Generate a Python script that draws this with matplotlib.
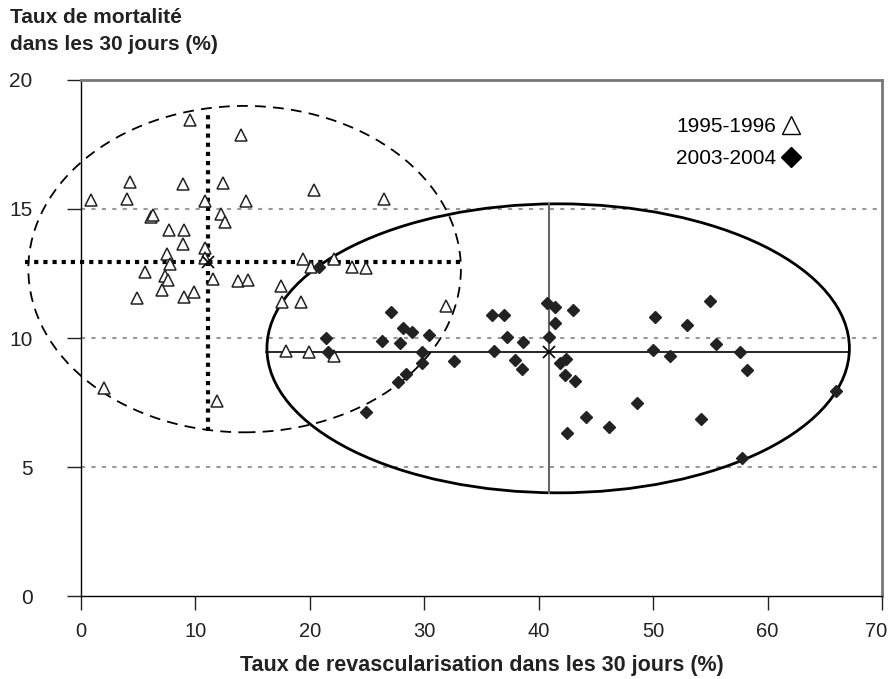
import matplotlib.pyplot as plt
from matplotlib.patches import Ellipse
from matplotlib.lines import Line2D
from matplotlib.transforms import ScaledTranslation

plt.rcParams['font.family'] = ['Liberation Sans', 'DejaVu Sans']

# 1995-1996 (triangles)
x_9596 = [0.9, 4.0, 4.3, 8.9, 9.5, 10.8, 12.4, 14.0, 14.4, 6.1, 6.3, 12.2, 12.6,
          7.7, 9.0, 8.9, 10.8, 7.5, 10.8, 7.8, 5.6, 7.3, 7.6, 11.5, 13.7, 14.6,
          7.1, 9.9, 4.9, 9.0, 20.4, 26.5, 19.4, 22.1, 20.1, 23.7, 24.9, 17.5,
          17.6, 19.2, 17.9, 19.9, 22.1, 31.9, 2.0, 11.9]
y_9596 = [15.35, 15.4, 16.05, 15.95, 18.45, 15.3, 16.0, 17.85, 15.3, 14.7, 14.75,
          14.8, 14.5, 14.2, 14.2, 13.65, 13.5, 13.25, 13.1, 12.85, 12.55, 12.4,
          12.25, 12.3, 12.2, 12.25, 11.85, 11.8, 11.55, 11.6, 15.75, 15.4, 13.05,
          13.05, 12.75, 12.75, 12.7, 12.0, 11.4, 11.4, 9.5, 9.45, 9.3, 11.25,
          8.05, 7.55]

# 2003-2004 (diamonds)
x_0304 = [20.8, 27.1, 21.4, 21.6, 26.3, 28.1, 28.9, 27.9, 30.4, 29.8, 29.8, 28.4,
          27.7, 24.9, 32.6, 35.9, 37.0, 37.2, 38.6, 36.1, 37.9, 38.5, 40.7, 40.9,
          41.4, 43.0, 41.4, 42.4, 41.9, 42.3, 43.2, 44.1, 42.5, 46.1, 48.6, 50.2,
          55.0, 53.0, 50.0, 51.5, 55.5, 57.6, 58.2, 54.2, 57.8, 66.0]
y_0304 = [12.75, 11.0, 10.0, 9.45, 9.9, 10.4, 10.25, 9.8, 10.1, 9.45, 9.05, 8.6,
          8.3, 7.15, 9.1, 10.9, 10.9, 10.05, 9.85, 9.5, 9.15, 8.8, 11.35, 10.05,
          11.2, 11.1, 10.6, 9.2, 9.05, 8.55, 8.35, 6.95, 6.3, 6.55, 7.5, 10.8,
          11.45, 10.5, 9.55, 9.3, 9.75, 9.45, 8.75, 6.85, 5.35, 7.95]

# moyennes et ellipses
mean_9596 = (11.1, 12.93)
mean_0304 = (40.9, 9.45)
ell_9596 = dict(center=(14.3, 12.67), width=37.8, height=12.65)
ell_0304 = dict(center=(41.7, 9.6), width=50.9, height=11.2)
cross_9596_x = (-4.9, 33.2)
cross_9596_y = (6.4, 18.8)
cross_0304_x = (16.2, 67.1)
cross_0304_y = (4.0, 15.2)

fig = plt.figure(figsize=(8.91, 6.79), dpi=100)
ax = fig.add_axes([0.0909, 0.1222, 0.899, 0.76])

ax.set_xlim(0, 70)
ax.set_ylim(0, 20)
ax.set_xticks(range(0, 71, 10))
ax.set_yticks([0, 5, 10, 15, 20])

# grille pointillée
for yv in [5, 10, 15]:
    ax.axhline(yv, color='#999999', lw=1.5, ls=(0, (2, 3)), zorder=0)

# ellipses
ax.add_patch(Ellipse(ell_9596['center'], ell_9596['width'], ell_9596['height'],
                     fill=False, ec='black', lw=1.3, ls=(0, (6, 4)), clip_on=False))
ax.add_patch(Ellipse(ell_0304['center'], ell_0304['width'], ell_0304['height'],
                     fill=False, ec='black', lw=2, clip_on=False))

# croix des moyennes
ax.plot(cross_9596_x, [mean_9596[1]] * 2, color='black', lw=3, ls=(0, (1, 1.2)), clip_on=False)
ax.plot([mean_9596[0]] * 2, cross_9596_y, color='black', lw=3, ls=(0, (1, 1.2)), clip_on=False)
ax.plot(cross_0304_x, [mean_0304[1]] * 2, color='black', lw=1.2)
ax.plot([mean_0304[0]] * 2, cross_0304_y, color='#666666', lw=1.5)

ax.plot(x_9596, y_9596, ls='none', marker='^', ms=8, mfc='white', mec='#222222', mew=1.1, zorder=3)
ax.plot(x_0304, y_0304, ls='none', marker='D', ms=6.5, mfc='#222222', mec='#222222', zorder=3)
ax.plot(*mean_9596, marker='x', ms=8, color='black', mew=1.2, zorder=4)
ax.plot(*mean_0304, marker='x', ms=8, color='black', mew=1.2, zorder=4)

# axes
for s in ['left', 'bottom']:
    ax.spines[s].set_color('black')
    ax.spines[s].set_linewidth(1)
for s in ['top', 'right']:
    ax.spines[s].set_color('#777777')
    ax.spines[s].set_linewidth(2)
ax.tick_params(direction='out', length=10, width=1, labelsize=15, colors='#222222')
ax.tick_params(axis='x', pad=9, labelsize=14.5)
ax.tick_params(axis='y', pad=25)

# décaler un peu le dernier label pour qu'il reste dans l'image
last = ax.get_xticklabels()[-1]
last.set_transform(last.get_transform() + ScaledTranslation(-4 / 72, 0, fig.dpi_scale_trans))

ax.set_xlabel('Taux de revascularisation dans les 30 jours (%)', fontsize=15.5,
              fontweight='bold', color='#222222', labelpad=10)
fig.text(0.011, 0.988, 'Taux de mortalité\ndans les 30 jours (%)', fontsize=15,
         fontweight='bold', color='#222222', va='top', ha='left', linespacing=1.55)

handles = [Line2D([], [], ls='none', marker='^', ms=13, mfc='white', mec='black', mew=1),
           Line2D([], [], ls='none', marker='D', ms=10, mfc='black', mec='black')]
ax.legend(handles, ['1995-1996', '2003-2004'], loc='upper right', bbox_to_anchor=(0.92, 0.965),
          markerfirst=False, frameon=False, fontsize=15, handlelength=0.8, handletextpad=0.3,
          labelspacing=0.65)

fig.savefig('out.png', dpi=100)
